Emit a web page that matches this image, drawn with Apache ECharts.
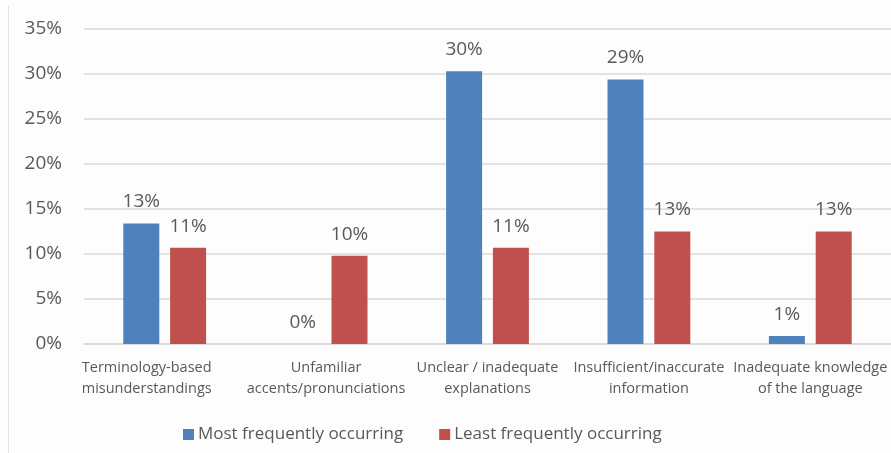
<!DOCTYPE html>
<html>
<head>
<meta charset="utf-8">
<script src="https://cdn.jsdelivr.net/npm/echarts@6/dist/echarts.min.js"></script>
<style>
  html, body { margin: 0; padding: 0; background: #fdfdfd; }
  #chart { width: 891px; height: 453px; }
</style>
</head>
<body>
<div id="chart"></div>
<script>
// Problem categories on the x axis (two-line labels)
const categories = [
  'Terminology-based\nmisunderstandings',
  'Unfamiliar\naccents/pronunciations',
  'Unclear / inadequate\nexplanations',
  'Insufficient/inaccurate\ninformation',
  'Inadequate knowledge\nof the language'
];

// Share of respondents (%) per series
const mostFrequent = [13.4, 0, 30.3, 29.4, 0.9];
const leastFrequent = [10.7, 9.8, 10.7, 12.5, 12.5];

const seriesNames = ['Most frequently occurring', 'Least frequently occurring'];
const yTicks = { min: 0, max: 35, step: 5 };

const FONT = '"Open Sans", "Noto Sans", sans-serif';
const TEXT = '#595959';

const chart = echarts.init(document.getElementById('chart'));

const valueLabel = {
  show: true,
  position: 'top',
  distance: 12,
  color: TEXT,
  fontFamily: FONT,
  fontSize: 19,
  formatter: p => Math.round(p.value) + '%'
};

// First category label sits a little left of its bars
const categoryData = categories.map((c, i) =>
  i === 0 ? { value: c, textStyle: { padding: [0, 36, 0, 0] } } : c
);

chart.setOption({
  backgroundColor: '#fdfdfd',
  animation: false,
  grid: { left: 84, right: -7, top: 29, bottom: 109 },
  legend: {
    left: 178,
    top: 421,
    itemWidth: 11,
    itemHeight: 11,
    itemGap: 36,
    icon: 'rect',
    textStyle: { color: TEXT, fontFamily: FONT, fontSize: 17, padding: [0, 0, 0, -1] },
    data: seriesNames
  },
  xAxis: {
    type: 'category',
    data: categoryData,
    axisLine: { lineStyle: { color: '#d9d9d9', width: 1.5 } },
    axisTick: { show: false },
    axisLabel: {
      interval: 0,
      margin: 13,
      color: TEXT,
      fontFamily: FONT,
      fontSize: 14.5,
      lineHeight: 21
    }
  },
  yAxis: {
    type: 'value',
    min: yTicks.min,
    max: yTicks.max,
    interval: yTicks.step,
    axisLine: { show: false },
    axisTick: { show: false },
    splitLine: { lineStyle: { color: '#d9d9d9', width: 1.5 } },
    axisLabel: {
      margin: 22,
      color: TEXT,
      fontFamily: FONT,
      fontSize: 19,
      formatter: '{value}%'
    }
  },
  series: [
    {
      name: seriesNames[0],
      type: 'bar',
      data: mostFrequent,
      barWidth: 36,
      barGap: '30%',
      itemStyle: { color: '#4f81bd' },
      label: valueLabel
    },
    {
      name: seriesNames[1],
      type: 'bar',
      data: leastFrequent,
      barWidth: 36,
      barGap: '30%',
      itemStyle: { color: '#c0504d' },
      label: valueLabel
    }
  ],
  graphic: [
    {
      type: 'line',
      shape: { x1: 8.5, y1: 6, x2: 8.5, y2: 453 },
      style: { stroke: '#e3e3e3', lineWidth: 1 }
    }
  ]
});
</script>
</body>
</html>
